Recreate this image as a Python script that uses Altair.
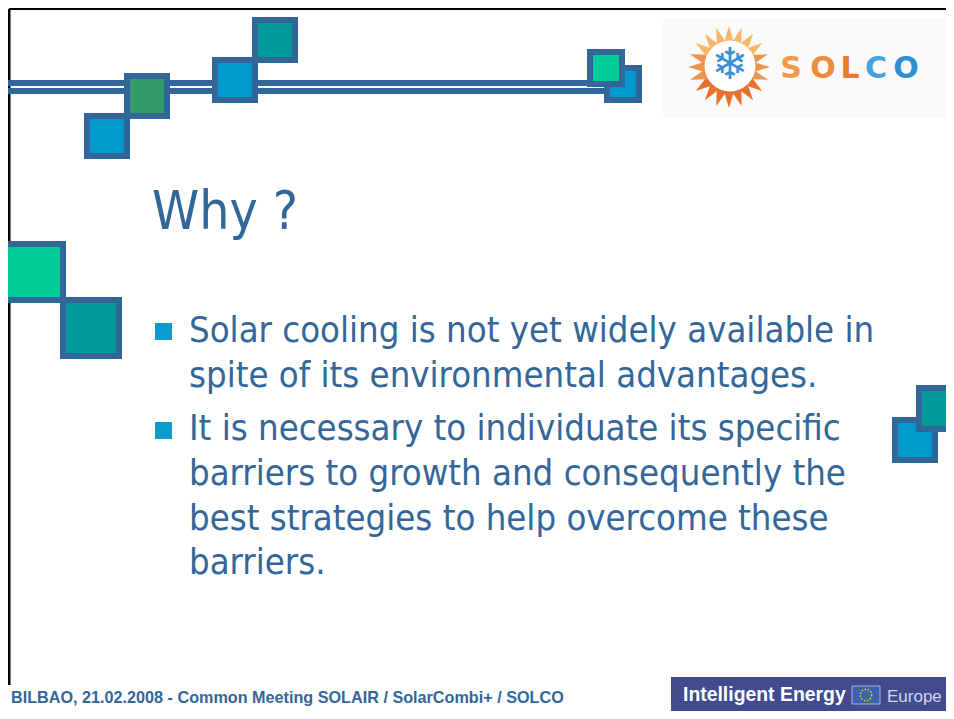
import altair as alt
import pandas as pd
import numpy as np

# ---------------- data (reference pixel coordinates of the slide) ----------------
W, H = 938, 703
X0, Y0 = 8, 8

# decorative squares (outer bounds), drawn in this order
sq_x0 = [84, 124, 212, 252, 604, 587, 2, 60, 892, 916]
sq_x1 = [130, 170, 258, 298, 642, 625, 66, 122, 938, 962]
sq_y0 = [113, 73, 57, 17, 65, 49, 241, 297, 417, 385]
sq_y1 = [159, 119, 103, 63, 103, 87, 303, 359, 463, 432]
sq_fill = ["#0099CC", "#339966", "#0099CC", "#009999", "#0099CC",
           "#00CC99", "#00CC99", "#009999", "#0099CC", "#009999"]

# double line
dl_y = [83, 91]
dl_x0 = [8, 8]
dl_x1 = [605, 605]

# title and bullets
title_text = ["Why ?"]
body_lines = [
    "Solar cooling is not yet widely available in",
    "spite of its environmental advantages.",
    "It is necessary to individuate its specific",
    "barriers to growth and consequently the",
    "best strategies to help overcome these",
    "barriers.",
]
body_base = [342, 387, 440, 485, 530, 574]
bullet_y0 = [323, 422]
bullet_y1 = [340, 439]

footer_text = ["BILBAO, 21.02.2008 - Common Meeting SOLAIR / SolarCombi+ / SOLCO"]

# logo
solco_letters = ["S", "O", "L", "C", "O"]
solco_x = [791, 823, 850, 876, 906]
solco_col = ["#F29A48", "#EE8B3C", "#EA7C32", "#45A2DE", "#2F8ED2"]
ray_angle = [0, 18, 36, 54, 72, 90, 108, 126, 144, 162,
             180, 198, 216, 234, 252, 270, 288, 306, 324, 342]

# ---------------- scales ----------------
xs = alt.Scale(domain=[X0, X0 + W], nice=False, zero=False)
ys = alt.Scale(domain=[Y0 + H, Y0], nice=False, zero=False)


def X(f):
    return alt.X(f, type="quantitative", scale=xs, axis=None)


def Y(f):
    return alt.Y(f, type="quantitative", scale=ys, axis=None)


BLUE = "#336699"
TXT_FONT = "DejaVu Sans Condensed, DejaVu Sans"

layers = []

# logo background
logo_bg = pd.DataFrame({"x0": [663], "x1": [960], "y0": [18], "y1": [118]})
layers.append(alt.Chart(logo_bg).mark_rect(color="#FAFAFA").encode(
    x=X("x0"), x2="x1", y=Y("y0"), y2="y1"))

# frame lines
frame = pd.DataFrame({"x0": [9, 9], "x1": [960, 9], "y0": [9, 9], "y1": [9, 685], "w": [2, 3]})
layers.append(alt.Chart(frame).mark_rule(color="#000000").encode(
    x=X("x0"), x2="x1", y=Y("y0"), y2="y1",
    strokeWidth=alt.StrokeWidth("w:Q", scale=None)))

# double line
dl = pd.DataFrame({"x0": dl_x0, "x1": dl_x1, "y": dl_y})
layers.append(alt.Chart(dl).mark_rule(color=BLUE, strokeWidth=6).encode(
    x=X("x0"), x2="x1", y=Y("y")))

# squares
sq = pd.DataFrame({"x0": sq_x0, "x1": sq_x1, "y0": sq_y0, "y1": sq_y1, "fill": sq_fill})
sq["order"] = range(len(sq))
sq["ix0"] = sq["x0"] + 3
sq["ix1"] = sq["x1"] - 3
sq["iy0"] = sq["y0"] + 3
sq["iy1"] = sq["y1"] - 3
layers.append(alt.Chart(sq).mark_rect(stroke=BLUE, strokeWidth=6).encode(
    x=X("ix0"), x2="ix1", y=Y("iy0"), y2="iy1",
    fill=alt.Fill("fill:N", scale=None),
    order=alt.Order("order:Q")))

# sun rays
cx, cy, rr = 729, 67, 32
ang = np.array(ray_angle, dtype=float)
rays = pd.DataFrame({
    "x": cx + rr * np.sin(np.radians(ang)),
    "y": cy - rr * np.cos(np.radians(ang)),
    "a": ang,
})
rays["c"] = ["#F6B868" if np.cos(np.radians(a)) > 0.4 else
             ("#EF9450" if np.cos(np.radians(a)) > -0.4 else "#E8712C") for a in ang]
layers.append(alt.Chart(rays).mark_point(
    shape="M-0.6,1L0,-1L0.6,1Z", filled=True, opacity=1, size=324).encode(
    x=X("x"), y=Y("y"),
    angle=alt.Angle("a:Q", scale=None),
    color=alt.Color("c:N", scale=None)))

sun = pd.DataFrame({"x": [730], "y": [66]})
layers.append(alt.Chart(sun).mark_point(
    shape="circle", filled=True, color="#FFFFFF", opacity=1, size=2600).encode(
    x=X("x"), y=Y("y")))
layers.append(alt.Chart(pd.DataFrame({"x": [730], "y": [66], "t": ["❄"]})).mark_text(
    font="DejaVu Sans", fontSize=44, color="#3A8FD6", align="center", baseline="middle").encode(
    x=X("x"), y=Y("y"), text="t:N"))

solco = pd.DataFrame({"x": solco_x, "y": [78] * 5, "t": solco_letters, "c": solco_col})
layers.append(alt.Chart(solco).mark_text(
    font="DejaVu Sans", fontSize=30, fontWeight="bold", align="center",
    baseline="alphabetic").encode(
    x=X("x"), y=Y("y"), text="t:N", color=alt.Color("c:N", scale=None)))

# title
layers.append(alt.Chart(pd.DataFrame({"x": [152], "y": [229], "t": title_text})).mark_text(
    font=TXT_FONT, fontSize=53, color=BLUE, align="left", baseline="alphabetic").encode(
    x=X("x"), y=Y("y"), text="t:N"))

# bullets
bul = pd.DataFrame({"x0": [155, 155], "x1": [172, 172], "y0": bullet_y0, "y1": bullet_y1})
layers.append(alt.Chart(bul).mark_rect(color="#0C9BCF").encode(
    x=X("x0"), x2="x1", y=Y("y0"), y2="y1"))

body = pd.DataFrame({"x": [189] * len(body_lines), "y": body_base, "t": body_lines})
layers.append(alt.Chart(body).mark_text(
    font=TXT_FONT, fontSize=36.2, color=BLUE, align="left", baseline="alphabetic").encode(
    x=X("x"), y=Y("y"), text="t:N"))

# footer
layers.append(alt.Chart(pd.DataFrame({"x": [11], "y": [703], "t": footer_text})).mark_text(
    font="Liberation Sans, Arial", fontSize=16.2, fontWeight="bold", color=BLUE,
    align="left", baseline="alphabetic").encode(x=X("x"), y=Y("y"), text="t:N"))

# Intelligent Energy Europe box
ie = pd.DataFrame({"x0": [671], "x1": [960], "y0": [677], "y1": [716]})
layers.append(alt.Chart(ie).mark_rect(color="#414B8D").encode(
    x=X("x0"), x2="x1", y=Y("y0"), y2="y1"))
flag = pd.DataFrame({"x0": [852], "x1": [880], "y0": [686], "y1": [704]})
layers.append(alt.Chart(flag).mark_rect(color="#3A62B0", stroke="#A9B5DD", strokeWidth=1).encode(
    x=X("x0"), x2="x1", y=Y("y0"), y2="y1"))
layers.append(alt.Chart(pd.DataFrame({"x": [866], "y": [695]})).mark_point(
    shape="circle", filled=False, color="#F2D000", strokeWidth=1.5,
    strokeDash=[1.5, 1.6], size=130, opacity=1).encode(x=X("x"), y=Y("y")))
ie_txt = pd.DataFrame({"x": [683, 887], "y": [701, 702],
                       "t": ["Intelligent Energy", "Europe"]})
layers.append(alt.Chart(ie_txt.iloc[[0]]).mark_text(
    font="Liberation Sans, Arial", fontSize=19.4, fontWeight="bold", color="#FFFFFF",
    align="left", baseline="alphabetic").encode(x=X("x"), y=Y("y"), text="t:N"))
layers.append(alt.Chart(ie_txt.iloc[[1]]).mark_text(
    font="Liberation Sans, Arial", fontSize=17, color="#D4D8F0",
    align="left", baseline="alphabetic").encode(x=X("x"), y=Y("y"), text="t:N"))

chart = alt.layer(*layers).properties(
    width=W, height=H, padding=0, autosize=alt.AutoSizeParams(type="none"),
    background="#FFFFFF"
).configure_view(stroke=None)

chart.save("out.html", embed_options={"renderer": "svg", "actions": False})
